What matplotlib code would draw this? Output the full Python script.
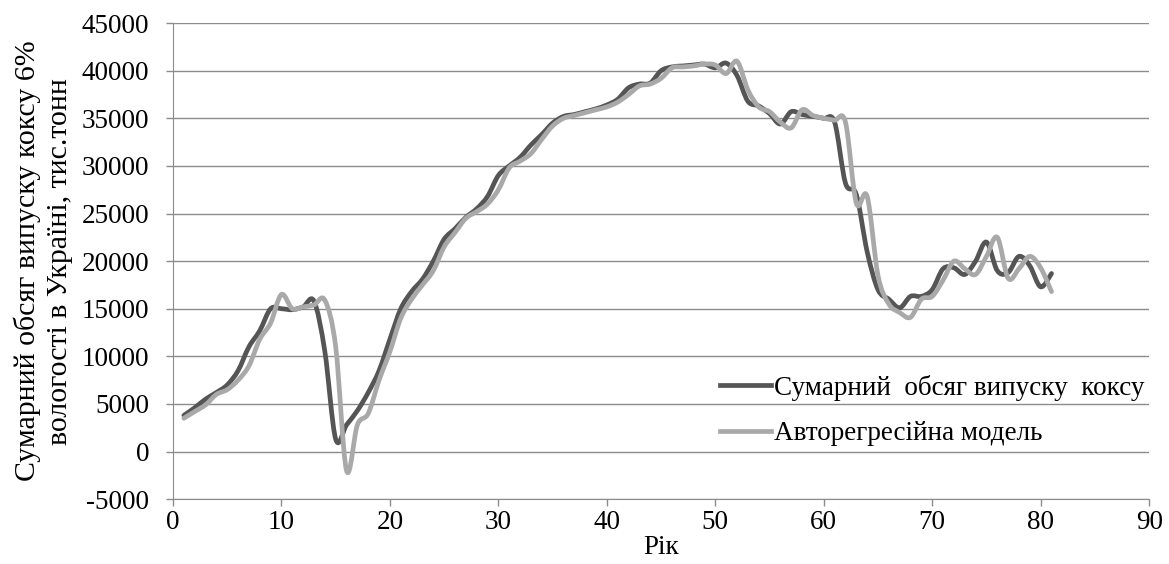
"""Coke output in Ukraine vs autoregressive model (Excel-style smoothed lines)."""

import matplotlib

matplotlib.use("Agg")
import matplotlib.pyplot as plt
import numpy as np
from matplotlib.lines import Line2D
from matplotlib.patches import PathPatch
from matplotlib.path import Path

years = list(range(1, 82))

actual = [
    3800, 4600, 5500, 6200, 7000, 8500, 11000, 12700, 15000, 15000,
    14900, 15200, 15800, 10500, 1300, 2800, 4300, 6200, 8500, 11800,
    15000, 16800, 18100, 20000, 22300, 23400, 24600, 25500, 26800, 29000,
    30000, 30900, 32200, 33300, 34500, 35200, 35400, 35700, 36000, 36400,
    37000, 38200, 38600, 38700, 40000, 40400, 40500, 40600, 40700, 40300,
    40800, 39500, 36800, 36300, 35500, 34400, 35700, 35400, 35200, 35000,
    34600, 28200, 27000, 21000, 17000, 16000, 15100, 16300, 16300, 17000,
    19200, 19300, 18600, 20000, 22000, 19000, 18800, 20500, 19500, 17300,
    18700,
]

model = [
    3500, 4200, 4900, 6000, 6500, 7500, 9000, 11800, 13500, 16500,
    15000, 15200, 15400, 15900, 11000, -2000, 2800, 4000, 7500, 10500,
    14000, 16000, 17500, 19000, 21500, 23000, 24500, 25200, 26000, 27500,
    29800, 30500, 31300, 32800, 34200, 35000, 35300, 35600, 35900, 36200,
    36700, 37500, 38400, 38600, 39200, 40300, 40400, 40500, 40700, 40600,
    39700, 41000, 38000, 36200, 35700, 34600, 34000, 35900, 35300, 35000,
    34800, 34600, 26100, 26800, 18500, 15500, 14600, 14100, 16000, 16300,
    18000, 20000, 19200, 18600, 20500, 22500, 18200, 19200, 20500, 19300,
    16800,
]

labels = ["Сумарний  обсяг випуску  коксу", "Авторегресійна модель"]
colors = ["#555555", "#a9a9a9"]


def smooth_path(x, y):
    """Bezier path through the points, like Excel's smoothed line."""
    p = np.column_stack([x, y]).astype(float)
    ext = np.vstack([p[0], p, p[-1]])
    verts = [p[0]]
    codes = [Path.MOVETO]
    for i in range(len(p) - 1):
        c1 = ext[i + 1] + (ext[i + 2] - ext[i]) / 6
        c2 = ext[i + 2] - (ext[i + 3] - ext[i + 1]) / 6
        verts += [c1, c2, ext[i + 2]]
        codes += [Path.CURVE4] * 3
    return Path(verts, codes)


plt.rcParams["font.family"] = ["Liberation Serif", "DejaVu Serif"]
plt.rcParams["axes.unicode_minus"] = False
fs = 19.5

fig = plt.figure(figsize=(11.69, 5.64), dpi=100)
ax = fig.add_axes([0.148, 0.115, 0.835, 0.844])

for series, col in zip([actual, model], colors):
    ax.add_patch(PathPatch(smooth_path(years, series), fill=False, edgecolor=col,
                           linewidth=3.4, capstyle="round", joinstyle="round", zorder=3))

ax.set_xlim(0, 90)
ax.set_ylim(-5000, 45000)
ax.set_xticks(range(0, 91, 10))
ax.set_yticks(range(-5000, 45001, 5000))
ax.yaxis.grid(True, color="#8c8c8c", linewidth=1.0)
ax.set_axisbelow(True)
for s in ["top", "right"]:
    ax.spines[s].set_visible(False)
for s in ["left", "bottom"]:
    ax.spines[s].set_color("#8c8c8c")
ax.tick_params(axis="both", colors="#8c8c8c", labelcolor="black", labelsize=fs,
               length=5, width=1)
ax.tick_params(axis="y", pad=12)
ax.tick_params(axis="x", pad=3)

ax.set_xlabel("Рік", fontsize=fs, labelpad=0)
ax.set_ylabel("Сумарний обсяг випуску коксу 6%\nвологості в Україні, тис.тонн",
              fontsize=21.5, linespacing=1.3, labelpad=6)

handles = [Line2D([], [], color=c, linewidth=3.4) for c in colors]
ax.legend(handles, labels, loc="lower right", bbox_to_anchor=(1.02, 0.06),
          frameon=False, fontsize=fs, handlelength=1.9, handletextpad=0.1,
          labelspacing=0.75)

fig.savefig("out.png", dpi=100)
